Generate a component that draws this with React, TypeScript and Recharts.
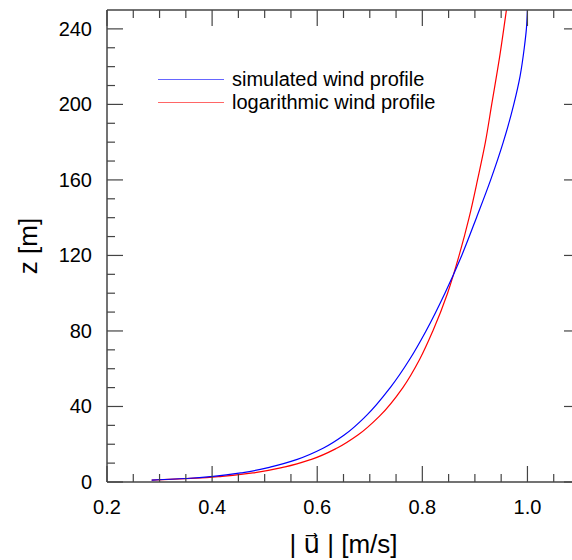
import { LineChart, Line, XAxis, YAxis, Legend } from "recharts";

// wind profile readings, height z [m] against speed |u| [m/s]
const simZ = [1, 2, 3, 5, 8, 12, 18, 25, 35, 50, 65, 80, 100, 120, 140, 160, 180, 200, 215, 230, 240, 250];
const simU = [0.285, 0.358, 0.402, 0.459, 0.512, 0.562, 0.612, 0.652, 0.693, 0.739, 0.776, 0.807, 0.843, 0.875, 0.903, 0.93, 0.954, 0.974, 0.986, 0.994, 0.998, 1.0];

const logZ = [1, 2, 3, 5, 8, 12, 18, 25, 35, 50, 65, 80, 100, 120, 140, 160, 180, 200, 225, 250];
const logU = [0.285, 0.37, 0.419, 0.482, 0.539, 0.589, 0.638, 0.678, 0.719, 0.763, 0.795, 0.82, 0.848, 0.87, 0.889, 0.905, 0.92, 0.932, 0.947, 0.96];

const xTicks = [0.2, 0.25, 0.3, 0.35, 0.4, 0.45, 0.5, 0.55, 0.6, 0.65, 0.7, 0.75, 0.8, 0.85, 0.9, 0.95, 1.0, 1.05];
const xMajor = [0.2, 0.4, 0.6, 0.8, 1.0];
const yTicks = [0, 10, 20, 30, 40, 50, 60, 70, 80, 90, 100, 110, 120, 130, 140, 150, 160, 170, 180, 190, 200, 210, 220, 230, 240];
const yMajor = [0, 40, 80, 120, 160, 200, 240];

const simData = simZ.map((z, i) => ({ z, u: simU[i] }));
const logData = logZ.map((z, i) => ({ z, u: logU[i] }));

const FONT = "'Liberation Sans', Arial, sans-serif";
const AXIS = "#444";

const isMajor = (list: number[], v: number) => list.some((m) => Math.abs(m - v) < 1e-6);

const XTick = ({ x, y, payload, top }: any) => {
  const major = isMajor(xMajor, payload.value);
  const len = major ? 16 : 8;
  return (
    <g>
      <line x1={x} x2={x} y1={y} y2={top ? y + len : y - len} stroke={AXIS} strokeWidth={1.2} />
      {!top && major && (
        <text x={x} y={y + 32} textAnchor="middle" fontSize={20} fontFamily={FONT} fill="#000">
          {payload.value.toFixed(1)}
        </text>
      )}
    </g>
  );
};

const YTick = ({ x, y, payload, right }: any) => {
  const major = isMajor(yMajor, payload.value);
  const len = major ? 16 : 8;
  return (
    <g>
      <line x1={x} x2={right ? x - len : x + len} y1={y} y2={y} stroke={AXIS} strokeWidth={1.2} />
      {!right && major && (
        <text x={x - 15} y={y} dy="0.35em" textAnchor="end" fontSize={20} fontFamily={FONT} fill="#000">
          {payload.value}
        </text>
      )}
    </g>
  );
};

const XLabel = ({ viewBox }: any) => (
  <text
    x={viewBox.x + viewBox.width / 2}
    y={viewBox.y + 71}
    textAnchor="middle"
    fontSize={26}
    fontFamily={FONT}
    fill="#000"
  >
    {"| "}
    <tspan fontFamily="'DejaVu Sans'">{"u\u20D7"}</tspan>
    {" | [m/s]"}
  </text>
);

const YLabel = ({ viewBox }: any) => {
  const cx = viewBox.x + 28;
  const cy = viewBox.y + viewBox.height / 2;
  return (
    <text
      x={cx}
      y={cy}
      dy="0.35em"
      transform={`rotate(-90 ${cx} ${cy})`}
      textAnchor="middle"
      fontSize={26}
      fontFamily={FONT}
      fill="#000"
    >
      z [m]
    </text>
  );
};

const WindLegend = () => {
  const items = [
    { name: "simulated wind profile", color: "#0000ff" },
    { name: "logarithmic wind profile", color: "#ff0000" },
  ];
  return (
    <div style={{ fontFamily: FONT, fontSize: 20, color: "#000" }}>
      {items.map((it) => (
        <div key={it.name} style={{ display: "flex", alignItems: "center", height: 23 }}>
          <div style={{ width: 66, height: 1, background: it.color, opacity: 0.6 }} />
          <span style={{ marginLeft: 8, whiteSpace: "nowrap" }}>{it.name}</span>
        </div>
      ))}
    </div>
  );
};

export default function App() {
  return (
    <div
      style={{
        position: "absolute",
        left: 0,
        top: 0,
        width: 572,
        height: 560,
        overflow: "hidden",
        background: "#fff",
      }}
    >
      <LineChart width={600} height={560} margin={{ top: 9, right: 19, bottom: 0, left: 0 }}>
        <XAxis
          xAxisId="bottom"
          type="number"
          dataKey="u"
          domain={[0.2, 1.1]}
          ticks={xTicks}
          interval={0}
          allowDataOverflow
          height={78}
          tickSize={0}
          tickMargin={0}
          tickLine={false}
          axisLine={{ stroke: AXIS, strokeWidth: 1.5 }}
          tick={<XTick />}
          label={{ content: XLabel }}
        />
        <XAxis
          xAxisId="top"
          orientation="top"
          type="number"
          dataKey="u"
          domain={[0.2, 1.1]}
          ticks={xTicks}
          interval={0}
          allowDataOverflow
          height={1}
          tickSize={0}
          tickMargin={0}
          tickLine={false}
          axisLine={{ stroke: AXIS, strokeWidth: 1.5 }}
          tick={<XTick top />}
        />
        <YAxis
          yAxisId="left"
          type="number"
          domain={[0, 250]}
          ticks={yTicks}
          interval={0}
          allowDataOverflow
          width={107}
          tickSize={0}
          tickMargin={0}
          tickLine={false}
          axisLine={{ stroke: AXIS, strokeWidth: 1.5 }}
          tick={<YTick />}
          label={{ content: YLabel }}
        />
        <YAxis
          yAxisId="right"
          orientation="right"
          type="number"
          domain={[0, 250]}
          ticks={yTicks}
          interval={0}
          allowDataOverflow
          width={1}
          tickSize={0}
          tickMargin={0}
          tickLine={false}
          axisLine={{ stroke: AXIS, strokeWidth: 1.5 }}
          tick={<YTick right />}
        />
        <Legend
          layout="vertical"
          align="center"
          verticalAlign="middle"
          content={<WindLegend />}
          wrapperStyle={{ position: "absolute", top: 68, left: 158, width: 320, height: 46 }}
        />
        <Line
          xAxisId="bottom"
          yAxisId="left"
          data={logData}
          dataKey="z"
          name="logarithmic wind profile"
          type="monotoneY"
          stroke="#ff0000"
          strokeWidth={1.2}
          dot={false}
          isAnimationActive={false}
        />
        <Line
          xAxisId="bottom"
          yAxisId="left"
          data={simData}
          dataKey="z"
          name="simulated wind profile"
          type="monotoneY"
          stroke="#0000ff"
          strokeWidth={1.2}
          dot={false}
          isAnimationActive={false}
        />
      </LineChart>
    </div>
  );
}
